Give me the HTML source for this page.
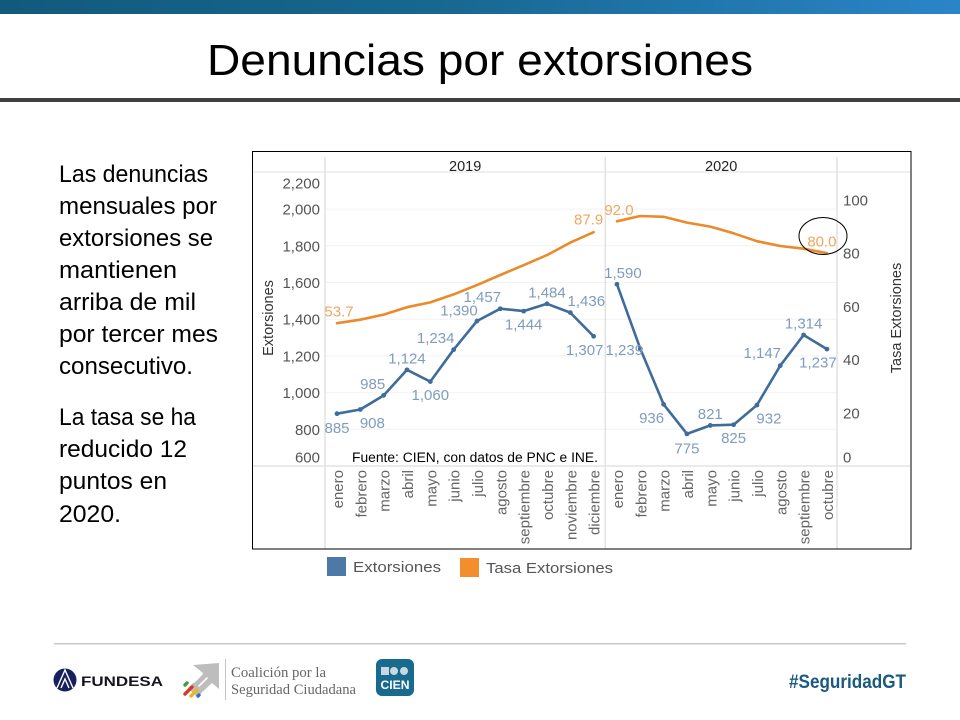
<!DOCTYPE html>
<html lang="es">
<head>
<meta charset="utf-8">
<title>Denuncias por extorsiones</title>
<style>
html,body{margin:0;padding:0;background:#fff;width:960px;height:720px;overflow:hidden}
svg{display:block}
text{font-family:"Liberation Sans",sans-serif}
</style>
</head>
<body>
<svg id="slide" width="960" height="720" viewBox="0 0 960 720" xmlns="http://www.w3.org/2000/svg">
<defs>
<linearGradient id="topGrad" x1="0" x2="1" y1="0" y2="0">
<stop offset="0" stop-color="#125a7c"/><stop offset="0.45" stop-color="#17678f"/><stop offset="1" stop-color="#2a85c8"/>
</linearGradient>
</defs>
<rect x="0" y="0" width="960" height="14" fill="url(#topGrad)"/>
<text x="207" y="75" font-size="44" fill="#000" textLength="546" lengthAdjust="spacingAndGlyphs">Denuncias por extorsiones</text>
<rect x="0" y="98" width="960" height="4" fill="#404040"/>

<g font-size="24" fill="#000">
<text x="59" y="182" textLength="149" lengthAdjust="spacingAndGlyphs">Las denuncias</text>
<text x="59" y="214" textLength="158" lengthAdjust="spacingAndGlyphs">mensuales por</text>
<text x="59" y="246" textLength="154" lengthAdjust="spacingAndGlyphs">extorsiones se</text>
<text x="59" y="278" textLength="118" lengthAdjust="spacingAndGlyphs">mantienen</text>
<text x="59" y="310" textLength="137" lengthAdjust="spacingAndGlyphs">arriba de mil</text>
<text x="59" y="342" textLength="159" lengthAdjust="spacingAndGlyphs">por tercer mes</text>
<text x="59" y="374" textLength="134" lengthAdjust="spacingAndGlyphs">consecutivo.</text>
<text x="59" y="425" textLength="137" lengthAdjust="spacingAndGlyphs">La tasa se ha</text>
<text x="59" y="457" textLength="128" lengthAdjust="spacingAndGlyphs">reducido 12</text>
<text x="59" y="489" textLength="108" lengthAdjust="spacingAndGlyphs">puntos en</text>
<text x="59" y="522" textLength="62" lengthAdjust="spacingAndGlyphs">2020.</text>
</g>

<g id="chart"></g>

<ellipse cx="823" cy="236" rx="24" ry="18.5" fill="none" stroke="#000" stroke-width="1"/>

<g font-size="15" fill="#555">
<rect x="327" y="557" width="19" height="19" fill="#4e79a7"/>
<text x="353" y="572" textLength="88" lengthAdjust="spacingAndGlyphs">Extorsiones</text>
<rect x="460" y="558" width="19" height="19" fill="#f28e2b"/>
<text x="486" y="573" textLength="127" lengthAdjust="spacingAndGlyphs">Tasa Extorsiones</text>
</g>

<rect x="54" y="643" width="852" height="1.5" fill="#c8c8c8"/>

<g>
<circle cx="65" cy="680" r="11.5" fill="#17205c"/>
<path d="M57 688 L65 670 L73 688 M61 688 L65 679 L69 688" fill="none" stroke="#fff" stroke-width="1.4"/>
<text x="81" y="686" font-size="13.5" font-weight="700" fill="#15151f" textLength="82" lengthAdjust="spacingAndGlyphs">FUNDESA</text>
</g>

<g>
<polygon points="193,665 219,663 219,689 212,683 197,697 188,688 203,673" fill="#bdbdbd"/>
<g fill="none" stroke-width="3.4" stroke-linecap="round">
<line x1="185" y1="685" x2="187" y2="683" stroke="#3e9b3e"/>
<line x1="185" y1="694" x2="192" y2="687" stroke="#d23a2c"/>
<line x1="191" y1="696" x2="197" y2="690" stroke="#eeb422"/>
<line x1="198" y1="696" x2="199" y2="695" stroke="#2b6fc0"/>
<line x1="194" y1="682" x2="202" y2="674" stroke="#fff" stroke-width="1.6"/>
<line x1="199" y1="686" x2="207" y2="678" stroke="#fff" stroke-width="1.6"/>
</g>
<rect x="225" y="659" width="1" height="41" fill="#c4c4c4"/>
<text x="231" y="677" font-size="14.5" fill="#666" style="font-family:'Liberation Serif',serif" textLength="95" lengthAdjust="spacingAndGlyphs">Coalición por la</text>
<text x="231" y="694" font-size="14.5" fill="#666" style="font-family:'Liberation Serif',serif" textLength="125" lengthAdjust="spacingAndGlyphs">Seguridad Ciudadana</text>
</g>

<g>
<rect x="376" y="659" width="38" height="37" rx="6" fill="#186a8e"/>
<rect x="381" y="667" width="8" height="8" fill="#c9d8e0"/>
<circle cx="394" cy="671" r="4" fill="#c9d8e0"/>
<circle cx="404" cy="671" r="4" fill="#c9d8e0"/>
<text x="395" y="689" font-size="12" font-weight="700" fill="#fff" text-anchor="middle" textLength="29" lengthAdjust="spacingAndGlyphs">CIEN</text>
</g>

<text x="789" y="688" font-size="19" font-weight="700" fill="#1b5a80" textLength="117" lengthAdjust="spacingAndGlyphs">#SeguridadGT</text>
</svg>

<script>
// Chart data
var years = ["2019", "2020"];
var yearCounts = [12, 10];
var months = ["enero","febrero","marzo","abril","mayo","junio","julio","agosto","septiembre","octubre","noviembre","diciembre","enero","febrero","marzo","abril","mayo","junio","julio","agosto","septiembre","octubre"];
var extorsiones = [885,908,985,1124,1060,1234,1390,1457,1444,1484,1436,1307,1590,1239,936,775,821,825,932,1147,1314,1237];
var tasa = [53.7,55,56.9,59.7,61.5,64.5,68,71.8,75.5,79.3,84,87.9,92,94,93.7,91.5,90,87.5,84.5,82.7,81.7,80];
var leftTicks = [600,800,1000,1200,1400,1600,1800,2000,2200];
var rightTicks = [0,20,40,60,80,100];
var tasaLabelled = [0,11,12,21];

// Label placement relative to each mark (layout only)
var extLabelDx = [0,12,-11,0,0,-18,-18,-18,0,0,16,-9,6,-16,-12,0,0,0,12,-18,0,-9];
var extLabelDy = [14,13,-12,-12,13,-12,-11,-12,13,-12,-12,13,-12,1,13,14,-12,13,13,-13,-12,13];
var tasaLabelDx = {0:2, 11:-5, 12:2, 21:-5};
var tasaLabelDy = {0:-12, 11:-13, 12:-12, 21:-12};

var SVGNS = "http://www.w3.org/2000/svg";
var chart = document.getElementById("chart");
var BOX = {l:252.5, t:151.5, r:911, b:549};
var PLOT = {l:325, r:837, top:172, bottom:466};

function xPos(i){ return 337 + 23.33 * i; }
function yLeft(v){ return PLOT.bottom - (v - 600) * 0.1835; }
function yRight(v){ return PLOT.bottom - v * 2.66; }
function clampLabel(y){ return Math.max(183, Math.min(457, y)); }
function fmt(v){ return String(v).replace(/\B(?=(\d{3})+$)/g, ","); }

function mk(tag, attrs, parent){
  var el = document.createElementNS(SVGNS, tag);
  for (var k in attrs) el.setAttribute(k, attrs[k]);
  (parent || chart).appendChild(el);
  return el;
}
function txt(s, attrs){
  var el = mk("text", attrs);
  el.textContent = s;
  return el;
}
var el;

// Frame
el = mk("rect", {x:BOX.l, y:BOX.t, width:BOX.r-BOX.l, height:BOX.b-BOX.t, fill:"#fff", stroke:"#000", "stroke-width":1});



// Horizontal gridlines
leftTicks.forEach(function(t){
  if (t === 600 || t === 2200) return;
  var g = mk("line", {x1:PLOT.l, x2:PLOT.r, y1:yLeft(t), y2:yLeft(t), stroke:"#f2f2f2", "stroke-width":1});
  
  
});

// Structural rules
el = mk("line", {x1:253, x2:910, y1:PLOT.top, y2:PLOT.top, stroke:"#e8e8e8", "stroke-width":1.2});


el = mk("line", {x1:253, x2:910, y1:PLOT.bottom, y2:PLOT.bottom, stroke:"#dedede", "stroke-width":1.2});



var start = 0;
[PLOT.l].concat(yearCounts.map(function(c, k){
  var n = 0; for (var j = 0; j <= k; j++) n += yearCounts[j];
  return k === yearCounts.length - 1 ? PLOT.r : (xPos(n - 1) + xPos(n)) / 2;
})).forEach(function(x){
  var v = mk("line", {x1:x, x2:x, y1:157, y2:548.5, stroke:"#e2e2e2", "stroke-width":1.5});
  
  
});

// Year headers
years.forEach(function(y, k){
  var first = start, last = start + yearCounts[k] - 1;
  var left = k === 0 ? PLOT.l : (xPos(first - 1) + xPos(first)) / 2;
  var right = k === years.length - 1 ? PLOT.r : (xPos(last) + xPos(last + 1)) / 2;
  var t = txt(y, {x:(left + right) / 2, y:171, "font-size":14.5, fill:"#222", "text-anchor":"middle"});
  
  
  start += yearCounts[k];
});

// Left axis
leftTicks.forEach(function(t){
  var l = txt(fmt(t), {x:320, y:clampLabel(yLeft(t)) + 5.5, "font-size":15, fill:"#555", "text-anchor":"end"});
  
  
});

// Right axis
rightTicks.forEach(function(t){
  var l = txt(String(t), {x:843, y:clampLabel(yRight(t)) + 5.5, "font-size":15, fill:"#555"});
  
  
});

// Axis titles
el = txt("Extorsiones", {transform:"translate(273 318) rotate(-90)", "font-size":14.5, fill:"#333", "text-anchor":"middle"});


el = txt("Tasa Extorsiones", {transform:"translate(901 318) rotate(-90)", "font-size":14.5, fill:"#333", "text-anchor":"middle"});



// Month labels
months.forEach(function(m, i){
  var l = txt(m, {transform:"translate(" + (xPos(i) + 6) + " 470) rotate(-90)", "font-size":15, fill:"#666", "text-anchor":"end"});
  
  
});

// Series lines, split at the year boundary
function drawSeries(values, yFn, color, name){
  var offset = 0;
  yearCounts.forEach(function(c){
    var pts = [];
    for (var i = offset; i < offset + c; i++) pts.push(xPos(i).toFixed(1) + "," + yFn(values[i]).toFixed(1));
    var p = mk("polyline", {points:pts.join(" "), fill:"none", stroke:color, "stroke-width":2.6, "stroke-linejoin":"round", "stroke-linecap":"round"});
    
    
    offset += c;
  });
}
drawSeries(tasa, yRight, "#ea8a2a", "tasa-line");
drawSeries(extorsiones, yLeft, "#3f6c9b", "extorsiones-line");

// Point markers
extorsiones.forEach(function(v, i){
  var c = mk("circle", {cx:xPos(i), cy:yLeft(v), r:2.4, fill:"#3f6c9b"});
  
  
});

// Value labels
extorsiones.forEach(function(v, i){
  var l = txt(fmt(v), {x:xPos(i) + extLabelDx[i], y:yLeft(v) + extLabelDy[i] + 5.5, "font-size":15, fill:"#7f9cbf", "text-anchor":"middle"});
  
  
});
tasaLabelled.forEach(function(i){
  var l = txt(tasa[i].toFixed(1), {x:xPos(i) + tasaLabelDx[i], y:yRight(tasa[i]) + tasaLabelDy[i] + 5.5, "font-size":15, fill:"#efa760", "text-anchor":"middle"});
  
  
});

// Source note
el = txt("Fuente: CIEN, con datos de PNC e INE.", {x:352, y:462, "font-size":13.5, fill:"#000", textLength:246, lengthAdjust:"spacingAndGlyphs"});


</script>
</body>
</html>
